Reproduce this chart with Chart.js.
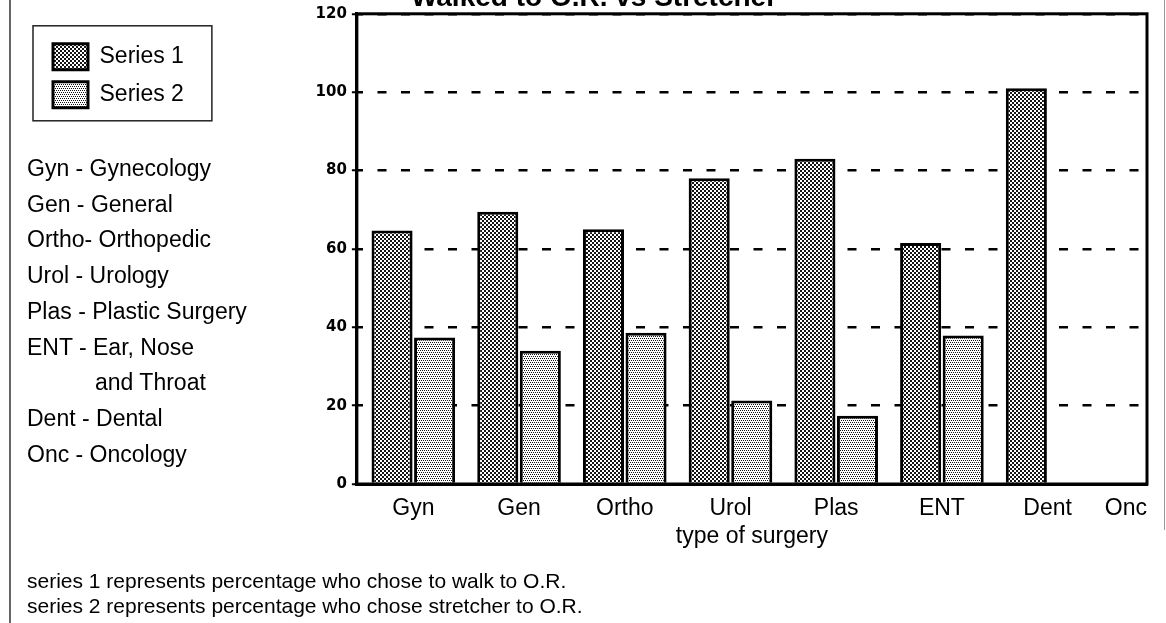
<!DOCTYPE html>
<html>
<head>
<meta charset="utf-8">
<script src="https://cdn.jsdelivr.net/npm/chart.js"></script>
<style>
  body { margin: 0; width: 1166px; height: 623px; overflow: hidden; background: #fff; position: relative;
         font-family: "Liberation Sans", Arial, sans-serif; color: #000; }
  #wrap { position: absolute; left: 0; top: -30px; width: 1166px; height: 653px; }
  .edge { position: absolute; background: #666; }
  #notes { position: absolute; left: 27px; top: 151px; font-size: 23px; line-height: 35.7px; white-space: nowrap; }
  #notes .indent { padding-left: 68px; }
  #foot { position: absolute; left: 27px; top: 568px; font-size: 21px; line-height: 25px; white-space: nowrap; }
</style>
</head>
<body>
<div id="wrap"><canvas id="chart"></canvas></div>
<div class="edge" style="left:9px; top:0; width:2px; height:623px;"></div>
<div class="edge" style="left:1164px; top:0; width:1px; height:530px; background:#999;"></div>
<div id="notes">
  <div>Gyn - Gynecology</div>
  <div>Gen - General</div>
  <div>Ortho- Orthopedic</div>
  <div>Urol - Urology</div>
  <div>Plas - Plastic Surgery</div>
  <div>ENT - Ear, Nose</div>
  <div class="indent">and Throat</div>
  <div>Dent - Dental</div>
  <div>Onc - Oncology</div>
</div>
<div id="foot">
  <div>series 1 represents percentage who chose to walk to O.R.</div>
  <div>series 2 represents percentage who chose stretcher to O.R.</div>
</div>
<script>
var categories = ['Gyn', 'Gen', 'Ortho', 'Urol', 'Plas', 'ENT', 'Dent', 'Onc'];
var series1 = [64.7, 69.5, 65, 78, 83, 61.5, 101, null];
var series2 = [37.4, 34, 38.6, 21.3, 17.4, 37.9, null, null];
var yTicks = [0, 20, 40, 60, 80, 100, 120];
// first label sits on the left bound and stays empty, Onc goes on the right bound
var xTickLabels = [''].concat(categories);

var font = 'Liberation Sans';
var xMin = -0.534, xMax = 6.94;
// the bar ruler takes the smallest gap between ticks (left bound to Gyn),
// so scale the share up to get ~80% of one category step
var groupShare = 0.805 / (0 - xMin);

// stippled fills like the old printout
function stipple(cells) {
  var c = document.createElement('canvas');
  c.width = 4; c.height = 4;
  var g = c.getContext('2d');
  g.fillStyle = '#fff';
  g.fillRect(0, 0, 4, 4);
  g.fillStyle = '#151515';
  cells.forEach(function(p) { g.fillRect(p[0], p[1], 1, 1); });
  return g.createPattern(c, 'repeat');
}
var dark = stipple([[0,0],[1,0],[0,1],[1,1],[2,2],[3,2],[2,3],[3,3]]);
var light = stipple([[0,0],[2,0],[1,2],[3,2]]);

function points(values) {
  return categories.map(function(c, i) { return {x: i, y: values[i]}; });
}

var frame = {
  id: 'frame',
  afterDraw: function(chart) {
    var ctx = chart.ctx, a = chart.chartArea;
    ctx.save();
    ctx.strokeStyle = '#000';
    ctx.lineWidth = 3;
    ctx.strokeRect(a.left, a.top, a.right - a.left, a.bottom - a.top);
    var hb = chart.legend.legendHitBoxes;
    if (hb && hb.length) {
      var right = 0;
      hb.forEach(function(h) { right = Math.max(right, h.left + h.width); });
      var last = hb[hb.length - 1];
      var x1 = hb[0].left - 20, y1 = hb[0].top - 18;
      ctx.lineWidth = 1.5;
      ctx.strokeStyle = '#222';
      ctx.strokeRect(x1, y1, right + 28 - x1, last.top + last.height + 13 - y1);
    }
    ctx.restore();
  }
};

new Chart(document.getElementById('chart'), {
  type: 'bar',
  data: {
    datasets: [{
      label: 'Series 1',
      data: points(series1),
      backgroundColor: dark,
      borderColor: '#000',
      borderWidth: 3
    }, {
      label: 'Series 2',
      data: points(series2),
      backgroundColor: light,
      borderColor: '#000',
      borderWidth: 3
    }]
  },
  options: {
    responsive: true,
    maintainAspectRatio: false,
    animation: false,
    categoryPercentage: groupShare,
    barPercentage: 0.965,
    layout: { padding: { left: 41, right: 19, top: 0, bottom: 69 } },
    plugins: {
      title: {
        display: true,
        text: 'Walked to O.R. vs Stretcher',
        color: '#000',
        font: { family: font, size: 28, weight: 'bold', lineHeight: 1.1 },
        padding: { top: 13, bottom: 0 }
      },
      legend: {
        position: 'left',
        align: 'start',
        fullSize: false,
        title: { display: true, text: '', font: { size: 2, lineHeight: 1 }, padding: 8 },
        labels: {
          boxWidth: 35,
          boxHeight: 26,
          padding: 12,
          color: '#000',
          font: { family: font, size: 23 }
        }
      },
      tooltip: { enabled: false }
    },
    scales: {
      x: {
        type: 'linear',
        min: xMin,
        max: xMax,
        offset: false,
        grid: { display: false, drawTicks: false },
        border: { display: true, color: '#000', width: 3 },
        afterBuildTicks: function(s) {
          var t = [{value: s.min}];
          categories.slice(0, -1).forEach(function(c, i) { t.push({value: i}); });
          t.push({value: s.max});
          s.ticks = t;
        },
        afterFit: function(s) { s.height = 70; },
        ticks: {
          autoSkip: false,
          maxRotation: 0,
          align: 'inner',
          padding: 11,
          color: '#000',
          font: { family: font, size: 23 },
          callback: function(v, i) { return xTickLabels[i]; }
        },
        title: {
          display: true,
          text: 'type of surgery',
          color: '#000',
          font: { family: font, size: 23 },
          padding: { top: 0, bottom: 4 }
        }
      },
      y: {
        min: 0,
        max: 120,
        afterBuildTicks: function(s) {
          s.ticks = yTicks.map(function(v) { return {value: v}; });
        },
        afterFit: function(s) { s.width = 163; },
        border: { display: true, color: '#000', width: 3, dash: [9, 14.5], dashOffset: 4 },
        grid: { color: '#000', lineWidth: 2.5, tickLength: 5, tickWidth: 2, tickBorderDash: [] },
        ticks: {
          padding: 5,
          color: '#000',
          font: { family: 'DejaVu Sans', size: 15, weight: 'bold' }
        }
      }
    }
  },
  plugins: [frame]
});
</script>
</body>
</html>
